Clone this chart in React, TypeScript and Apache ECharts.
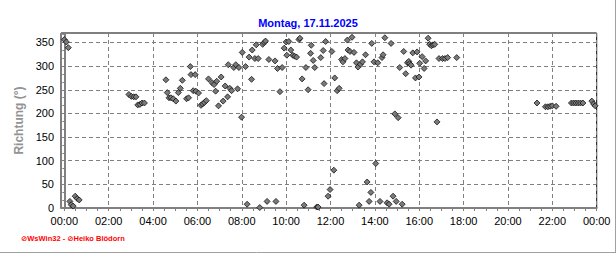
import React, { useEffect, useRef } from "react";
import * as echarts from "echarts";

const TITLE = "Montag, 17.11.2025";
const Y_NAME = "Richtung (°)";
const CREDIT = "⊘WsWin32 - ⊘Heiko Blödorn";

// time of day in hours
const hours: number[] = [
  0.0, 0.09, 0.18, 0.25, 0.31, 0.4, 0.49, 0.58, 0.67,
  2.91, 3.02, 3.13, 3.23, 3.31, 3.41, 3.5, 3.61,
  4.58, 4.64, 4.72, 4.81, 4.91, 5.03, 5.14, 5.23, 5.32, 5.51, 5.6, 5.68, 5.71, 5.81, 5.9, 5.93,
  6.05, 6.16, 6.23, 6.31, 6.4, 6.5, 6.66, 6.75, 6.82, 6.87, 6.95, 7.07, 7.16, 7.25, 7.36, 7.39,
  7.46, 7.54, 7.64, 7.73, 7.81, 7.87, 7.99, 8.02, 8.17, 8.24, 8.33, 8.44, 8.47, 8.59, 8.65, 8.74,
  8.81, 8.94, 9.01, 9.07, 9.14, 9.22, 9.5, 9.54, 9.61, 9.72, 9.82, 9.91, 10.0, 10.03, 10.12, 10.21,
  10.3, 10.38, 10.47, 10.58, 10.62, 10.72, 10.81, 10.89, 10.99, 11.1, 11.13, 11.22, 11.29, 11.38,
  11.44, 11.56, 11.67, 11.71, 11.78, 11.89, 11.98, 12.06, 12.15, 12.19, 12.3, 12.39, 12.5, 12.56,
  12.65, 12.76, 12.79, 12.88, 12.97, 13.06, 13.17, 13.24, 13.29, 13.35, 13.44, 13.58, 13.65, 13.74,
  13.82, 13.86, 13.96, 14.04, 14.13, 14.23, 14.32, 14.37, 14.45, 14.55, 14.64, 14.73, 14.82, 14.9,
  14.96, 15.05, 15.12, 15.23, 15.3, 15.39, 15.47, 15.53, 15.57, 15.63, 15.71, 15.83, 15.9, 15.99,
  16.02, 16.13, 16.22, 16.29, 16.4, 16.47, 16.55, 16.62, 16.7, 16.8, 16.89, 17.05, 17.16, 17.28,
  17.69, 21.31, 21.69, 21.8, 21.9, 22.0, 22.17, 22.86, 22.96, 23.06, 23.17, 23.27, 23.38, 23.78,
  23.86, 23.93,
];

// wind direction in degrees
const directions: number[] = [
  356, 351, 339, 14, 7, 4, 25, 20, 17,
  240, 236, 235, 235, 218, 219, 222, 222,
  271, 244, 233, 233, 231, 226, 244, 253, 270, 231, 233, 299, 282, 248, 282, 247,
  243, 217, 220, 223, 227, 273, 265, 261, 247, 268, 216, 277, 226, 258, 235, 303,
  253, 248, 297, 303, 252, 297, 192, 329, 299, 8, 319, 272, 334, 316, 345, 316,
  1, 346, 350, 353, 14, 314, 311, 14, 295, 246, 297, 338, 351, 323, 352, 334,
  323, 321, 319, 356, 359, 273, 6, 297, 250, 327, 344, 312, 297, 2,
  2, 318, 333, 263, 352, 25, 39, 331, 80, 275, 248, 253, 314, 309,
  316, 355, 334, 331, 361, 329, 307, 298, 6, 304, 309, 324, 55, 14,
  33, 348, 309, 94, 307, 14, 318, 324, 360, 11, 8, 348, 25, 199,
  14, 191, 297, 8, 331, 284, 307, 310, 305, 302, 328, 275, 330, 277,
  306, 320, 295, 311, 359, 346, 343, 345, 346, 182, 316, 316, 316, 318,
  318, 222, 214, 214, 215, 216, 215, 222, 222, 222, 222, 222, 222, 226,
  220, 216,
];

const X_TICK_HOURS: number[] = [0, 2, 4, 6, 8, 10, 12, 14, 16, 18, 20, 22, 24];
const Y_MAX = 370;
const X_MIN = -0.15;

const FONT = "'Liberation Sans', Arial, sans-serif";

export default function App() {
  const ref = useRef<HTMLDivElement>(null);

  useEffect(() => {
    if (!ref.current) return;
    const chart = echarts.init(ref.current, undefined, { renderer: "svg" });
    const grid = { top: 33, bottom: 45, right: 19.3 };
    const fmt = (v: number) => {
      const h = Math.round(v) % 24;
      return (h < 10 ? "0" : "") + h + ":00";
    };
    chart.setOption({
      animation: false,
      backgroundColor: "#ffffff",
      title: {
        text: TITLE,
        left: "center",
        top: 12,
        textStyle: { color: "#0000ff", fontSize: 11, fontWeight: "bold", fontFamily: FONT },
      },
      grid: [
        { ...grid, left: 61, show: true, borderColor: "#000000", borderWidth: 1, backgroundColor: "transparent" },
        { ...grid, left: 64.3 },
      ],
      xAxis: [
        {
          gridIndex: 0,
          type: "value",
          min: X_MIN,
          max: 24,
          axisLine: { show: true, onZero: false, lineStyle: { color: "#808080", width: 2 } },
          axisTick: { show: false },
          axisLabel: { show: false },
          splitLine: { show: false },
        },
        {
          gridIndex: 1,
          type: "value",
          min: X_TICK_HOURS[0],
          max: X_TICK_HOURS[X_TICK_HOURS.length - 1],
          interval: 2,
          axisLine: { show: false, onZero: false },
          axisTick: { show: true, length: 3, lineStyle: { color: "#808080" } },
          minorTick: { show: true, splitNumber: 4, length: 3, lineStyle: { color: "#808080" } },
          axisLabel: { formatter: fmt, color: "#000", fontSize: 11, fontFamily: FONT, margin: 7 },
          splitLine: { show: true, lineStyle: { color: "#808080", type: [4, 3], width: 1 } },
        },
      ],
      yAxis: [
        {
          gridIndex: 0,
          type: "value",
          min: 0,
          max: Y_MAX,
          interval: 50,
          name: Y_NAME,
          nameLocation: "middle",
          nameRotate: 90,
          nameGap: 28,
          nameTextStyle: { color: "#939393", fontSize: 12, fontWeight: "bold", fontFamily: FONT },
          axisLine: { show: true, lineStyle: { color: "#808080", width: 2 } },
          axisTick: { show: true, length: 3, lineStyle: { color: "#808080" } },
          minorTick: { show: true, splitNumber: 3, length: 2, lineStyle: { color: "#808080" } },
          axisLabel: { color: "#000", fontSize: 11, fontFamily: FONT, margin: 7, showMaxLabel: false },
          splitLine: { show: true, lineStyle: { color: "#808080", type: [4, 3], width: 1 } },
        },
        { gridIndex: 1, type: "value", min: 0, max: Y_MAX, show: false },
      ],
      series: [
        {
          type: "scatter",
          xAxisIndex: 0,
          yAxisIndex: 0,
          symbol: "diamond",
          symbolSize: 6,
          itemStyle: { color: "#7a7a7a", borderColor: "#000000", borderWidth: 0.7, opacity: 1 },
          data: hours.map((h, i) => [h, directions[i]]),
          z: 5,
        },
      ],
      graphic: [
        {
          type: "text",
          left: 21,
          top: 234,
          style: { text: CREDIT, fill: "#ff0000", font: "bold 7.5px 'Liberation Sans', 'DejaVu Sans', sans-serif" },
        },
        { type: "line", shape: { x1: 615.5, y1: 0, x2: 615.5, y2: 253 }, style: { stroke: "#a0a0a0", lineWidth: 1 } },
        { type: "line", shape: { x1: 0, y1: 252.5, x2: 616, y2: 252.5 }, style: { stroke: "#a0a0a0", lineWidth: 1 } },
      ],
    });
    return () => chart.dispose();
  }, []);

  return (
    <div
      ref={ref}
      style={{ position: "fixed", left: 0, top: 0, width: 616, height: 253, background: "#fff" }}
    />
  );
}
